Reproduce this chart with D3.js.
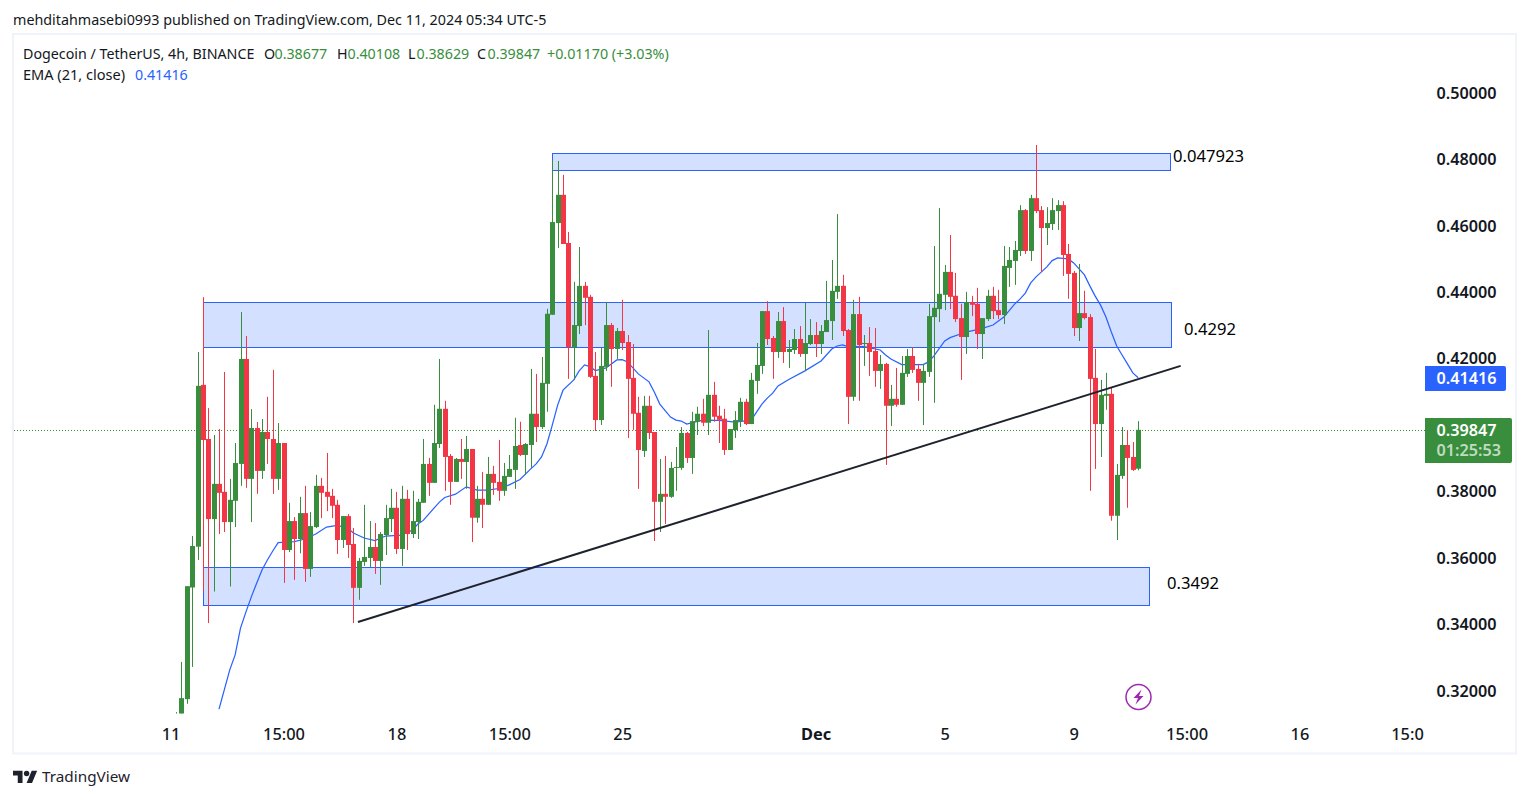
<!DOCTYPE html>
<html>
<head>
<meta charset="utf-8">
<title>DOGEUSDT 4h</title>
<script src="https://cdn.jsdelivr.net/npm/d3@7"></script>
<style>
    html, body { margin: 0; padding: 0; background: #fff; overflow: hidden; }
    svg { display: block; }
    text { font-family: 'Noto Sans', sans-serif; }
</style>
</head>
<body>
<div id="chart"></div>
<script>
/* -----------------    DATA     ------------------ */

const opens = [
    .3100, .3125, .3174, .3510, .3633, .4120, .3957, .3716, .3822, .3798,
    .3707, .3771, .3882, .4198, .3837, .3990, .3861, .3978, .3957, .3837,
    .3945, .3623, .3710, .3656, .3734, .3566, .3692, .3816, .3798, .3786,
    .3759, .3653, .3725, .3641, .3509, .3587, .3599, .3632, .3590, .3668,
    .3716, .3750, .3626, .3777, .3671, .3707, .3765, .3882, .3825, .3942,
    .4048, .3906, .3828, .3897, .3888, .3927, .3720, .3777, .3759, .3852,
    .3828, .3801, .3843, .3864, .3939, .3909, .3939, .4033, .3993, .4123,
    .4331, .4607, .4692, .4547, .4233, .4297, .4418, .4385, .4147, .4014,
    .4174, .4300, .4228, .4282, .4249, .4141, .4036, .3921, .4057, .3978,
    .3768, .3792, .3783, .3870, .3870, .3975, .3900, .4009, .4033, .4006,
    .4090, .4027, .4018, .3924, .3984, .4011, .4069, .4002, .4132, .4177,
    .4342, .4261, .4219, .4312, .4219, .4225, .4258, .4213, .4243, .4270,
    .4243, .4279, .4312, .4400, .4418, .4285, .4084, .4333, .4243, .4246,
    .4222, .4162, .4183, .4057, .4078, .4060, .4153, .4207, .4168, .4126,
    .4159, .4324, .4348, .4391, .4460, .4388, .4321, .4264, .4369, .4364,
    .4273, .4318, .4388, .4345, .4330, .4472, .4493, .4523, .4646, .4523,
    .4682, .4646, .4592, .4604, .4643, .4661, .4514, .4457, .4291, .4336,
    .4324, .4141, .4002, .4087, .4093, .3726, .3846, .3939, .3903, .38677
];

const highs = [
    .3135, .3286, .3514, .3665, .4219, .4384, .4050, .3969, .3987, .4159,
    .3837, .3945, .4339, .4267, .4047, .4008, .4017, .4084, .4165, .4005,
    .3945, .3765, .3722, .3783, .3816, .3737, .3849, .3840, .3915, .3807,
    .3774, .3725, .3731, .3689, .3599, .3759, .3710, .3704, .3677, .3759,
    .3807, .3798, .3816, .3804, .3801, .3777, .3957, .3900, .4060, .4198,
    .4072, .3912, .3900, .3957, .3966, .3927, .3816, .3858, .3903, .3876,
    .3954, .3885, .3909, .4021, .4009, .3945, .4168, .4153, .4204, .4349,
    .4797, .4794, .4752, .4580, .4430, .4535, .4430, .4391, .4219, .4231,
    .4369, .4306, .4291, .4376, .4270, .4243, .4084, .4087, .4087, .3978,
    .3897, .3906, .3888, .3933, .3993, .3978, .4039, .4054, .4078, .4285,
    .4129, .4057, .4048, .3987, .4041, .4081, .4078, .4156, .4246, .4342,
    .4372, .4267, .4339, .4354, .4255, .4288, .4297, .4367, .4318, .4309,
    .4300, .4433, .4496, .4634, .4451, .4288, .4376, .4385, .4270, .4294,
    .4291, .4210, .4186, .4120, .4171, .4207, .4228, .4234, .4183, .4183,
    .4364, .4538, .4652, .4481, .4571, .4457, .4364, .4400, .4388, .4412,
    .4321, .4406, .4415, .4406, .4538, .4535, .4553, .4661, .4649, .4692,
    .4842, .4658, .4655, .4682, .4676, .4673, .4544, .4463, .4484, .4403,
    .4333, .4228, .4135, .4156, .4111, .3882, .3993, .3984, .3948, .40108
];

const lows = [
    .3090, .3110, .3160, .3271, .3593, .3500, .3403, .3498, .3671, .3677,
    .3513, .3692, .3816, .3810, .3707, .3792, .3837, .3882, .3792, .3804,
    .3524, .3617, .3533, .3613, .3527, .3542, .3689, .3719, .3740, .3719,
    .3611, .3629, .3599, .3403, .3473, .3575, .3572, .3551, .3518, .3608,
    .3677, .3611, .3575, .3623, .3659, .3656, .3765, .3786, .3825, .3930,
    .3801, .3759, .3828, .3837, .3807, .3647, .3705, .3689, .3759, .3789,
    .3771, .3786, .3843, .3807, .3906, .3849, .3870, .3948, .3987, .4039,
    .4331, .4532, .4544, .4138, .4135, .4273, .4300, .4141, .3981, .3999,
    .4162, .4114, .4198, .4225, .3960, .3984, .3807, .3903, .3957, .3650,
    .3677, .3701, .3780, .3801, .3864, .3885, .3852, .3969, .3996, .3969,
    .4009, .3945, .3909, .3924, .3960, .3993, .3999, .4002, .4093, .4153,
    .4240, .4138, .4201, .4186, .4171, .4213, .4204, .4162, .4240, .4204,
    .4213, .4279, .4255, .4379, .4267, .4002, .4072, .4072, .4177, .4147,
    .4114, .4108, .3879, .3996, .4054, .4060, .4144, .4156, .4072, .3999,
    .4144, .4066, .4309, .4345, .4348, .4309, .4135, .4213, .4327, .4228,
    .4198, .4312, .4318, .4318, .4303, .4415, .4421, .4508, .4514, .4493,
    .4637, .4460, .4541, .4586, .4586, .4448, .4379, .4267, .4252, .4317,
    .3801, .3867, .3903, .4045, .3711, .3653, .3837, .3750, .3861, .38629
];

const closes = [
    .3125, .3177, .3514, .3635, .4117, .3954, .3716, .3822, .3795, .3707,
    .3774, .3885, .4198, .3837, .3990, .3861, .3978, .3957, .3837, .3945,
    .3623, .3710, .3656, .3734, .3566, .3695, .3816, .3795, .3783, .3756,
    .3653, .3725, .3638, .3509, .3590, .3602, .3632, .3590, .3671, .3719,
    .3750, .3626, .3777, .3671, .3710, .3768, .3882, .3825, .3945, .4048,
    .3903, .3828, .3897, .3888, .3927, .3720, .3777, .3759, .3852, .3825,
    .3801, .3846, .3867, .3936, .3909, .3942, .4033, .3993, .4126, .4334,
    .4610, .4692, .4544, .4233, .4300, .4418, .4382, .4144, .4014, .4177,
    .4300, .4228, .4282, .4246, .4138, .4033, .3924, .4057, .3975, .3768,
    .3792, .3783, .3870, .3873, .3975, .3900, .4011, .4033, .4006, .4090,
    .4024, .4015, .3924, .3987, .4014, .4069, .4002, .4135, .4180, .4342,
    .4258, .4219, .4312, .4219, .4228, .4258, .4213, .4246, .4270, .4243,
    .4282, .4315, .4403, .4418, .4282, .4084, .4333, .4240, .4246, .4219,
    .4162, .4183, .4057, .4078, .4060, .4156, .4207, .4165, .4126, .4162,
    .4327, .4352, .4394, .4460, .4385, .4318, .4264, .4369, .4361, .4273,
    .4321, .4388, .4342, .4330, .4478, .4496, .4526, .4646, .4523, .4682,
    .4643, .4592, .4607, .4646, .4661, .4511, .4454, .4291, .4336, .4321,
    .4138, .4002, .4090, .4093, .3726, .3849, .3939, .3900, .3864, .39847
];

// EMA (21, close): bar number and value at that bar
const emaBars = [
    9, 11, 12, 13, 14, 15, 16, 17, 18, 19, 20, 23, 25, 27, 29, 31, 33, 34, 36, 38,
    40, 43, 45, 46, 47, 49, 50, 51, 53, 55, 57, 59, 61, 63, 65, 67, 68, 69, 70, 71,
    72, 73, 75, 76, 77, 78, 79, 81, 83, 84, 85, 87, 89, 90, 91, 93, 94, 95, 96, 99,
    102, 105, 108, 109, 110, 111, 112, 113, 115, 118, 121, 123, 124, 125, 126, 129, 132, 133, 134, 136,
    140, 141, 142, 144, 145, 148, 151, 153, 155, 157, 158, 159, 160, 161, 162, 163, 164, 165, 167, 168,
    170, 171, 172, 173, 174, 175, 176, 177, 178, 179, 180
];
const emaValues = [
    .3144, .3262, .3307, .3388, .3436, .3481, .3523, .3563, .3593, .3620, .3645, .3648, .3656, .3671, .3692, .3697, .3688, .3674, .3659, .3651,
    .3665, .3668, .3683, .3701, .3712, .3749, .3767, .3781, .3791, .3813, .3803, .3803, .3808, .3819, .3835, .3867, .3882, .3903, .3942, .3999,
    .4059, .4104, .4135, .4162, .4180, .4175, .4163, .4171, .4195, .4196, .4189, .4153, .4129, .4098, .4062, .4023, .4014, .4011, .4002, .4014,
    .4013, .4008, .4014, .4038, .4062, .4080, .4095, .4117, .4136, .4162, .4192, .4228, .4237, .4240, .4235, .4235, .4225, .4210, .4198, .4181,
    .4181, .4189, .4207, .4252, .4262, .4279, .4290, .4300, .4324, .4363, .4378, .4396, .4427, .4445, .4460, .4475, .4494, .4502, .4499, .4487,
    .4451, .4418, .4387, .4360, .4324, .4279, .4237, .4210, .4183, .4156, .41416
];

// Drawn zones: first bar, last bar, top price, bottom price
const zoneStart = [71, 6, 6];
const zoneEnd = [186, 186, 182];
const zoneTop = [.4818, .4368, .3573];
const zoneBottom = [.4767, .4232, .3459];
const zoneLabels = ['0.047923', '0.4292', '0.3492'];

const trendBars = [34.85, 187.9];
const trendPrices = [.3406, .4177];

const priceTicks = [.50, .48, .46, .44, .42, .38, .36, .34, .32];
const timeTicks = [0, 21, 42, 63, 84, 120, 144, 168, 189, 210, 230];
const timeLabels = ['11', '15:00', '18', '15:00', '25', 'Dec', '5', '9', '15:00', '16', '15:0'];

const lastClose = .39847;
const lastEma = .41416;

/* -----------------    CONSTANTS     ------------------ */

const colUp = '#388e3c';
const colDown = '#f23645';
const colBlue = '#2962ff';
const colText = '#131722';
const colFrame = '#f0f3fa';
const colTrend = '#1e222d';

const width = 1529;
const height = 798;
const paneBottom = 713.5;
const paneRight = 1425;

const x = d3.scaleLinear().domain([1, 180]).range([176, 1138.2]);
const y = d3.scaleLinear().domain([0.5, 0.32]).range([92.5, 690.5]);

/* -----------------    LOGIC     ------------------ */

const svg = d3.select('#chart')
    .append('svg')
    .attr('width', width)
    .attr('height', height);

svg.append('defs').append('clipPath')
    .attr('id', 'pane')
    .append('rect')
    .attr('x', 14)
    .attr('y', 35)
    .attr('width', paneRight - 14)
    .attr('height', paneBottom - 35);

// Frame
svg.append('rect')
    .attr('x', 13)
    .attr('y', 34)
    .attr('width', 1503)
    .attr('height', 719.5)
    .attr('fill', 'none')
    .attr('stroke', colFrame)
    .attr('stroke-width', 2);

const pane = svg.append('g').attr('clip-path', 'url(#pane)');

// Zones sit under the candles
const zones = d3.range(zoneStart.length);
pane.selectAll('.zone')
    .data(zones)
    .enter()
    .append('rect')
    .attr('class', 'zone')
    .attr('x', d => Math.round(x(zoneStart[d])) + 0.5)
    .attr('y', d => Math.round(y(zoneTop[d])) + 0.5)
    .attr('width', d => Math.round(x(zoneEnd[d]) - x(zoneStart[d])))
    .attr('height', d => Math.round(y(zoneBottom[d]) - y(zoneTop[d])))
    .attr('fill', colBlue)
    .attr('fill-opacity', 0.2)
    .attr('stroke', colBlue)
    .attr('stroke-width', 1);

// Last price line
pane.append('line')
    .attr('x1', 14)
    .attr('x2', paneRight)
    .attr('y1', Math.round(y(lastClose)) + 0.5)
    .attr('y2', Math.round(y(lastClose)) + 0.5)
    .attr('stroke', colUp)
    .attr('stroke-width', 1)
    .attr('stroke-dasharray', '1 2');

// EMA
const emaLine = d3.line()
    .x(d => x(d))
    .y((d, i) => y(emaValues[i]));

pane.append('path')
    .attr('d', emaLine(emaBars))
    .attr('fill', 'none')
    .attr('stroke', colBlue)
    .attr('stroke-width', 1.25);

// Candles
const bars = d3.range(opens.length);
const isUp = i => closes[i] >= opens[i];
const bodyLeft = i => Math.round(x(i + 1) - 2);

const candle = pane.selectAll('.candle')
    .data(bars)
    .enter()
    .append('g')
    .attr('class', 'candle')
    .attr('fill', i => isUp(i) ? colUp : colDown);

candle.append('rect')
    .attr('x', i => bodyLeft(i) + 2)
    .attr('y', i => y(highs[i]))
    .attr('width', 1)
    .attr('height', i => y(lows[i]) - y(highs[i]));

candle.append('rect')
    .attr('x', bodyLeft)
    .attr('y', i => y(Math.max(opens[i], closes[i])))
    .attr('width', 5)
    .attr('height', i => Math.max(1, Math.abs(y(opens[i]) - y(closes[i]))));

// Trend line
pane.append('line')
    .attr('x1', x(trendBars[0]))
    .attr('y1', y(trendPrices[0]))
    .attr('x2', x(trendBars[1]))
    .attr('y2', y(trendPrices[1]))
    .attr('stroke', colTrend)
    .attr('stroke-width', 2);

// Zone labels
svg.selectAll('.zone-label')
    .data(zones)
    .enter()
    .append('text')
    .attr('class', 'zone-label')
    .attr('x', d => [1173, 1184, 1167][d])
    .attr('y', d => [162, 335, 589][d])
    .attr('font-size', '16.6px')
    .attr('fill', '#000')
    .text(d => zoneLabels[d]);

// Axes
const yAxis = d3.axisRight(y)
    .tickValues(priceTicks)
    .tickFormat(d3.format('.5f'))
    .tickSize(0)
    .tickPadding(0);

svg.append('g')
    .attr('transform', 'translate(1436.5,0.5)')
    .call(yAxis)
    .call(g => g.select('.domain').remove())
    .selectAll('text')
    .attr('font-size', '16.2px')
    .attr('font-weight', 600)
    .attr('font-family', "'Noto Sans', sans-serif")
    .attr('fill', colText);

const xAxis = d3.axisBottom(x)
    .tickValues(timeTicks)
    .tickFormat((d, i) => timeLabels[i])
    .tickSize(0)
    .tickPadding(0);

svg.append('g')
    .attr('transform', 'translate(0,728)')
    .call(xAxis)
    .call(g => g.select('.domain').remove())
    .selectAll('text')
    .attr('font-size', '16.4px')
    .attr('font-family', "'Noto Sans', sans-serif")
    .attr('font-weight', d => d === 120 ? 700 : 500)
    .attr('fill', colText);

// Price tags
const ema = svg.append('g');
ema.append('path')
    .attr('d', 'M1425 366H1504a2 2 0 0 1 2 2V389a2 2 0 0 1 -2 2H1425Z')
    .attr('fill', colBlue);
ema.append('text')
    .attr('x', 1436.5)
    .attr('y', 384)
    .attr('font-size', '16.2px')
    .attr('font-weight', 600)
    .attr('fill', '#fff')
    .text(lastEma.toFixed(5));

const last = svg.append('g');
last.append('path')
    .attr('d', 'M1425 418H1510a2 2 0 0 1 2 2V461a2 2 0 0 1 -2 2H1425Z')
    .attr('fill', colUp);
last.append('text')
    .attr('x', 1436.5)
    .attr('y', 436)
    .attr('font-size', '16.2px')
    .attr('font-weight', 600)
    .attr('fill', '#fff')
    .text(lastClose.toFixed(5));
last.append('text')
    .attr('x', 1436.5)
    .attr('y', 456)
    .attr('font-size', '16.2px')
    .attr('font-weight', 600)
    .attr('fill', '#fff')
    .attr('fill-opacity', 0.7)
    .text('01:25:53');

// Header and legend
const addText = (px, py, str, col, size) => svg.append('text')
    .attr('x', px)
    .attr('y', py)
    .attr('font-size', size + 'px')
    .attr('fill', col)
    .text(str);

addText(13, 24.5, 'mehditahmasebi0993 published on TradingView.com, Dec 11, 2024 05:34 UTC-5', colText, 14.32);
addText(23, 59, 'Dogecoin / TetherUS, 4h, BINANCE', colText, 14.25);
addText(264, 59, 'O', colText, 14.25);
addText(274.5, 59, '0.38677', colUp, 14.25);
addText(337, 59, 'H', colText, 14.25);
addText(347.5, 59, '0.40108', colUp, 14.25);
addText(408, 59, 'L', colText, 14.25);
addText(416.5, 59, '0.38629', colUp, 14.25);
addText(477, 59, 'C', colText, 14.25);
addText(487.5, 59, '0.39847', colUp, 14.25);
addText(547, 59, '+0.01170 (+3.03%)', colUp, 14.3);
addText(23, 80, 'EMA (21, close)', colText, 14.55);
addText(135, 80, '0.41416', colBlue, 14.25);

// TradingView mark
svg.append('path')
    .attr('transform', 'translate(13,768) scale(0.68)')
    .attr('d', 'M14 22H7V11H0V4h14v18zM28 22h-8l7.5-18h8L28 22z')
    .attr('fill', colTrend);
svg.append('circle')
    .attr('cx', 13 + 20 * 0.68)
    .attr('cy', 768 + 8 * 0.68)
    .attr('r', 4 * 0.68)
    .attr('fill', colTrend);
addText(42, 782, 'TradingView', colTrend, 15.3);

// Lightning badge
svg.append('circle')
    .attr('cx', 1138.5)
    .attr('cy', 697)
    .attr('r', 12.5)
    .attr('fill', '#fff')
    .attr('stroke', '#9c27b0')
    .attr('stroke-width', 1.5);
svg.append('path')
    .attr('d', 'M1141.5 689.5L1133.5 698H1138L1135.5 704.5L1143.5 696H1139Z')
    .attr('fill', '#9c27b0');
</script>
</body>
</html>
